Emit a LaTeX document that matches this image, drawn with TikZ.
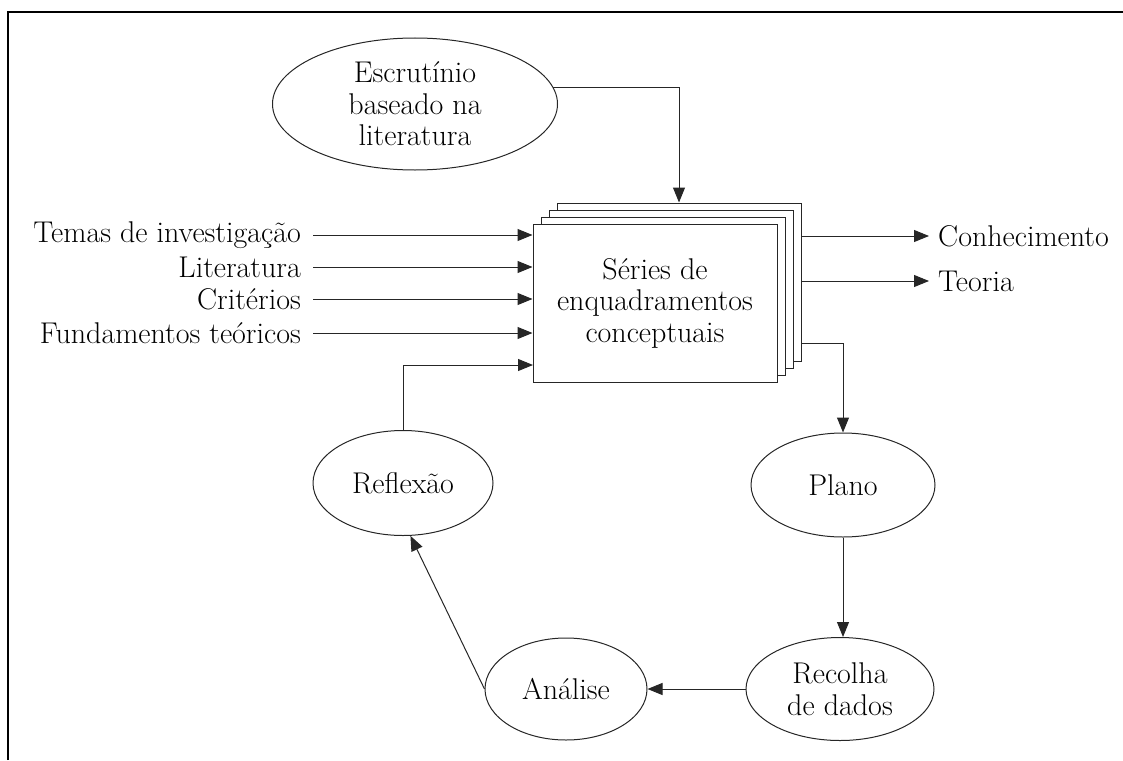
\documentclass[tikz,border=0pt]{standalone}
\usetikzlibrary{arrows.meta,shapes.geometric}
\begin{document}
\begin{tikzpicture}[x=1pt,y=-1pt,
  font=\fontsize{30}{31.5}\selectfont,
  thin line/.style={line width=1pt,draw=black!85},
  arr/.style={thin line,-{Triangle[length=15pt,width=12pt]}},
  oval/.style={ellipse,draw=black!85,line width=1pt,inner sep=0pt,align=center},
  sheet/.style={rectangle,draw=black!85,line width=1pt,fill=white,minimum width=244pt,minimum height=158pt,inner sep=0pt},
  inlbl/.style={anchor=east,inner xsep=12pt,inner ysep=2pt},
  outlbl/.style={anchor=west,inner xsep=9pt,inner ysep=2pt}]
\useasboundingbox (0,0) rectangle (1123,760);
% outer frame (top and left edges)
\draw[line width=2.7pt] (8,760) -- (8,12) -- (1123,12);

% stacked sheets, back to front
\node[sheet] (s3) at (679,282) {};
\node[sheet] (s2) at (671,289) {};
\node[sheet] (s1) at (663,296) {};
\node[sheet,align=center] (box) at (655,303) {Séries de\\enquadramentos\\conceptuais};

% ovals
\node[oval,minimum width=285pt,minimum height=132pt] (esc) at (415,104) {Escrutínio\\baseado na\\literatura};
\node[oval,minimum width=180pt,minimum height=105pt] (refl) at (403,483) {Reflexão};
\node[oval,minimum width=184pt,minimum height=104pt] (plano) at (843,485) {Plano};
\node[oval,minimum width=188pt,minimum height=103pt] (rec) at (840,689) {Recolha\\de dados};
\node[oval,minimum width=162pt,minimum height=102pt] (ana) at (566,689) {Análise};

% input labels
\node[inlbl] (t1) at (313,235) {Temas de investigação};
\node[inlbl] (t2) at (313,267) {Literatura};
\node[inlbl] (t3) at (313,299) {Critérios};
\node[inlbl] (t4) at (313,333) {Fundamentos teóricos};

% output labels
\node[outlbl] (o1) at (929,236) {Conhecimento};
\node[outlbl] (o2) at (929,281) {Teoria};

\coordinate (r5) at (533,365);
\coordinate (pl) at (801,343);

% connectors
\draw[arr] (esc.7) -| (s3.north);
\foreach \t in {t1,t2,t3,t4} \draw[arr] (\t.east) -- (\t.east -| box.west);
\draw[arr] (refl.north) |- (r5);
\draw[arr] (s3.east |- o1.west) -- (o1.west);
\draw[arr] (s3.east |- o2.west) -- (o2.west);
\draw[arr] (pl) -| (plano.north);
\draw[arr] (plano.south) -- (rec.north -| plano.south);
\draw[arr] (rec.west) -- (ana.east);
\draw[arr] (ana.west) -- (refl.-82);
\end{tikzpicture}
\end{document}
